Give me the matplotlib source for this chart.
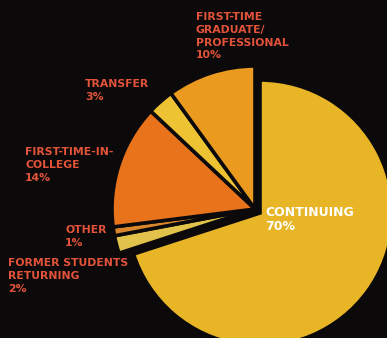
import matplotlib.pyplot as plt

# enrolment shares by student type
segments = ["CONTINUING", "FORMER STUDENTS\nRETURNING", "OTHER",
            "FIRST-TIME-IN-\nCOLLEGE", "TRANSFER",
            "FIRST-TIME\nGRADUATE/\nPROFESSIONAL"]
shares = [70, 2, 1, 14, 3, 10]
colors = ["#E8B526", "#E2C24A", "#D9862C", "#E8731B", "#EDC233", "#EA9B1F"]

W, H = 387, 338
fig = plt.figure(figsize=(W / 100, H / 100), dpi=100, facecolor="#0B0909")
ax = fig.add_axes([0, 0, 1, 1])
ax.set_facecolor("#0B0909")

wedges, _ = ax.pie(shares, colors=colors, startangle=90, counterclock=False,
                   center=(260, H - 213), radius=133,
                   wedgeprops=dict(edgecolor="#0B0909", linewidth=2.6))
ax.set_xlim(0, W)
ax.set_ylim(0, H)
ax.set_aspect("equal")
ax.axis("off")

# the smaller slices sit a little out from the big one
for w in wedges[1:]:
    w.set_center((255, H - 209))
    w.set_radius(143)

label_color = "#E2533A"
label_pos = {
    "FIRST-TIME\nGRADUATE/\nPROFESSIONAL": (196, 12),
    "TRANSFER": (85, 79),
    "FIRST-TIME-IN-\nCOLLEGE": (25, 147),
    "OTHER": (65, 225),
    "FORMER STUDENTS\nRETURNING": (8, 258),
}
for name, pct in zip(segments[1:], shares[1:]):
    x, y = label_pos[name]
    ax.text(x, H - y, f"{name}\n{pct}%", color=label_color, fontsize=7.8,
            fontweight="heavy", va="top", ha="left", linespacing=1.35)

ax.text(265, H - 206, f"{segments[0]}\n{shares[0]}%", color="white",
        fontsize=9, fontweight="bold", va="top", ha="left", linespacing=1.15)

fig.savefig("out.png", dpi=100, facecolor=fig.get_facecolor())
